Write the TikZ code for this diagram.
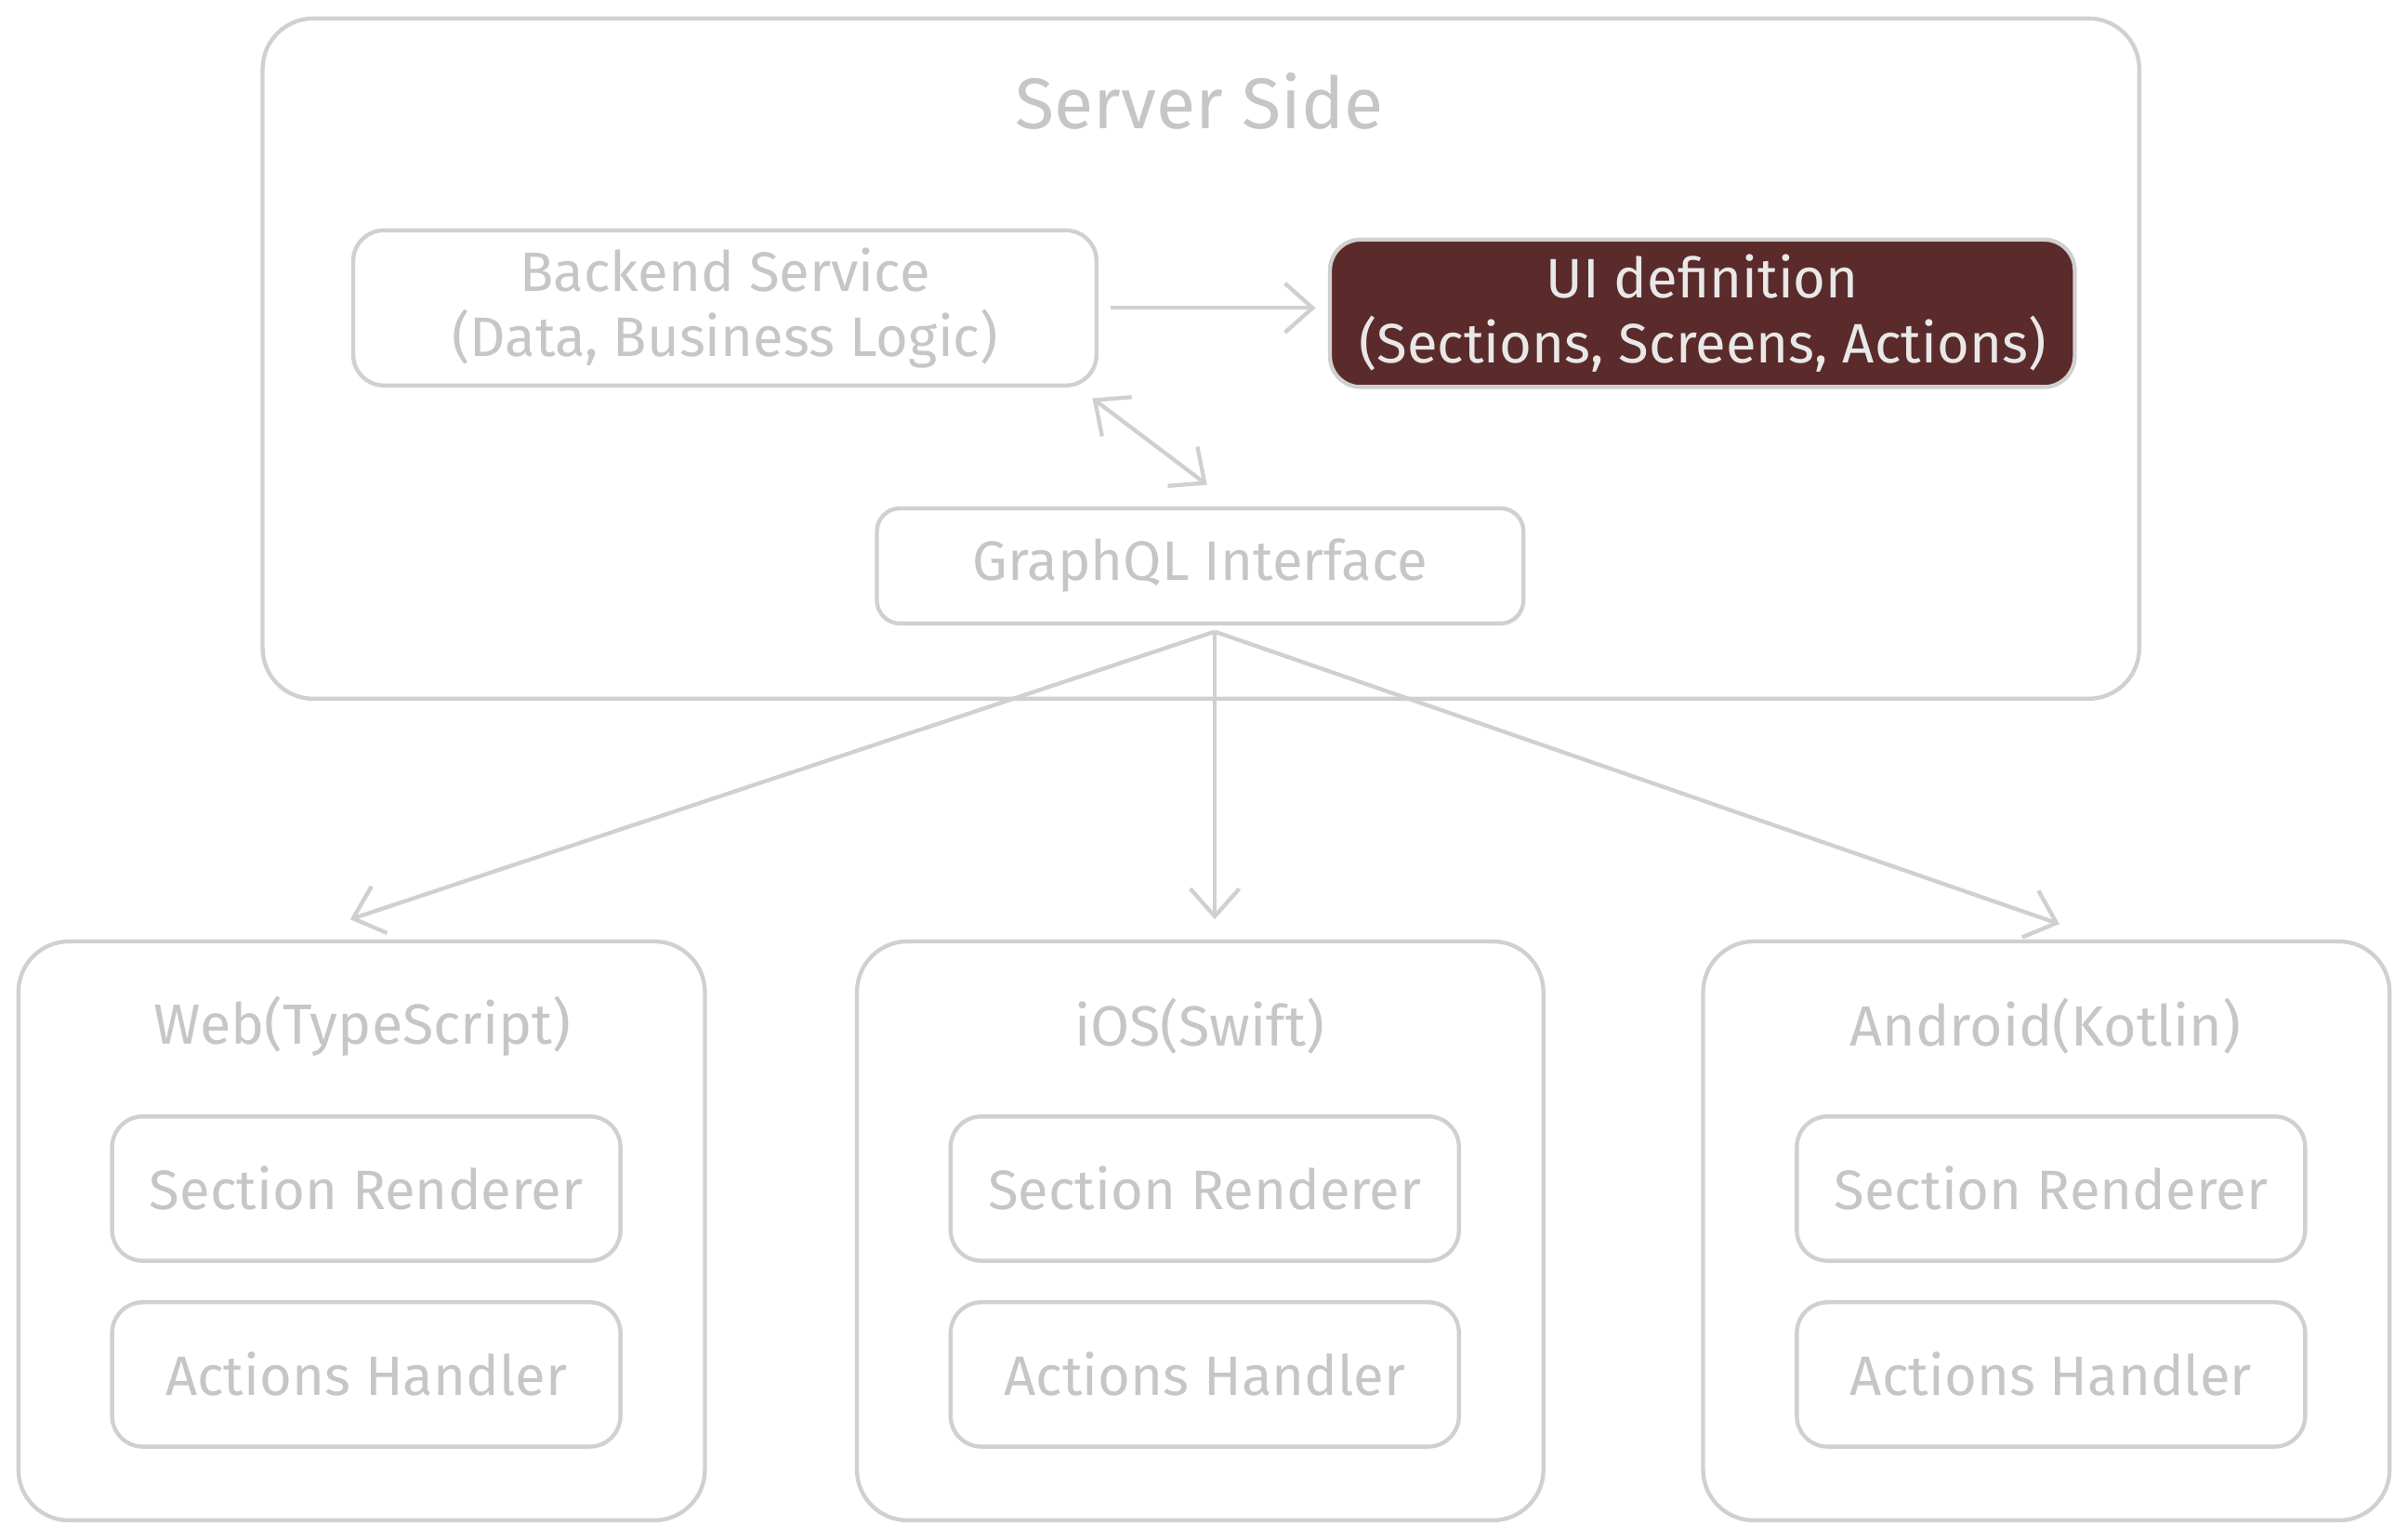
\documentclass[tikz,border=0pt]{standalone}
\usepackage{fontspec}
\setmainfont{Fira Sans}
\usetikzlibrary{arrows.meta}
\definecolor{sketchgray}{RGB}{208,208,208}
\definecolor{labelgray}{RGB}{198,198,198}
\definecolor{uibrown}{RGB}{91,42,42}
\definecolor{uitext}{RGB}{232,232,232}
\tikzset{
  box/.style={draw=sketchgray, line width=0.75pt, rounded corners=0.2cm, inner sep=0pt, align=center, text=labelgray, font=\fontsize{10.3}{12}\selectfont},
  groupbox/.style={box, rounded corners=0.33cm},
  uibox/.style={box, fill=uibrown, text=uitext},
  grouptitle/.style={text=labelgray, font=\fontsize{10.5}{13}\selectfont},
  bigtitle/.style={text=labelgray, font=\fontsize{13.3}{16}\selectfont},
  arr/.style={draw=sketchgray, line width=0.75pt, -{Straight Barb[length=1.8mm,width=3.2mm]}},
  biarr/.style={draw=sketchgray, line width=0.75pt, {Straight Barb[length=1.8mm,width=3.2mm]}-{Straight Barb[length=1.8mm,width=3.2mm]}}
}
\begin{document}
\begin{tikzpicture}
\useasboundingbox (0,0) rectangle (15.68,-10.02);
\node[groupbox, minimum width=12.22cm, minimum height=4.43cm] (server) at (7.82,-2.335) {};
\node[bigtitle] (servertitle) at (7.81,-0.66) {Server Side};
\node[box, minimum width=4.84cm, minimum height=1.01cm] (backend) at (4.72,-2.005) {Backend Service\\(Data, Business Logic)};
\node[uibox, minimum width=4.85cm, minimum height=0.96cm] (ui) at (11.085,-2.04) {UI definition\\(Sections, Screens, Actions)};
\node[box, rounded corners=0.15cm, minimum width=4.21cm, minimum height=0.75cm] (graphql) at (7.815,-3.685) {GraphQL Interface};
\draw[arr] ([xshift=0.08cm]backend.east) -- ([xshift=-0.08cm]ui.west |- backend.east);
\draw[biarr] ([shift={(-0.04,-0.07)}]backend.south east) -- ([shift={(0.045,0.14)}]graphql.north);
\node[groupbox, minimum width=4.47cm, minimum height=3.77cm] (web) at (2.355,-8.015) {};
\node[grouptitle] (webtitle) at (2.36,-6.68) {Web(TypeScript)};
\node[box, minimum width=3.31cm, minimum height=0.94cm] (websection) at (2.385,-7.74) {Section Renderer};
\node[box, minimum width=3.31cm, minimum height=0.94cm] (webactions) at (2.385,-8.95) {Actions Handler};
\node[groupbox, minimum width=4.47cm, minimum height=3.77cm] (ios) at (7.815,-8.015) {};
\node[grouptitle] (iostitle) at (7.81,-6.68) {iOS(Swift)};
\node[box, minimum width=3.31cm, minimum height=0.94cm] (iossection) at (7.845,-7.74) {Section Renderer};
\node[box, minimum width=3.31cm, minimum height=0.94cm] (iosactions) at (7.845,-8.95) {Actions Handler};
\node[groupbox, minimum width=4.47cm, minimum height=3.77cm] (android) at (13.325,-8.015) {};
\node[grouptitle] (androidtitle) at (13.32,-6.68) {Android(Kotlin)};
\node[box, minimum width=3.31cm, minimum height=0.94cm] (androidsection) at (13.355,-7.74) {Section Renderer};
\node[box, minimum width=3.31cm, minimum height=0.94cm] (androidactions) at (13.355,-8.95) {Actions Handler};
\coordinate (gqlout) at ([shift={(0.095,-0.04)}]graphql.south);
\draw[arr] (gqlout) -- ([shift={(-0.075,0.13)}]web.north);
\draw[arr] (gqlout) -- ([shift={(0.095,0.13)}]ios.north);
\draw[arr] (gqlout) -- ([shift={(0.085,0.10)}]android.north);
\end{tikzpicture}
\end{document}
